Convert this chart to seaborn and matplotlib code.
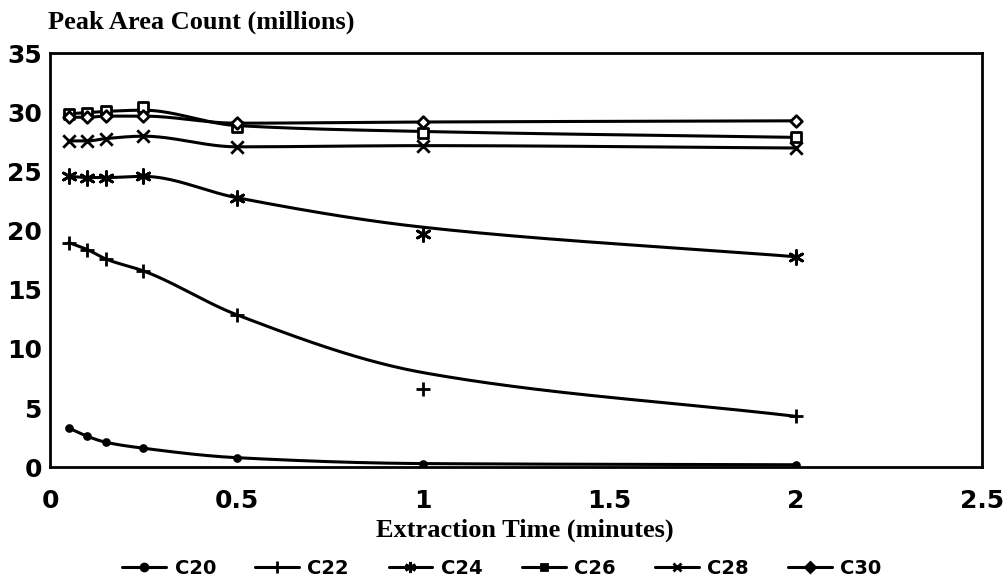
import numpy as np
import pandas as pd
import matplotlib
matplotlib.use("Agg")
import matplotlib.pyplot as plt
from matplotlib.lines import Line2D
import seaborn as sns

# ---- data ----
times = [0.05, 0.1, 0.15, 0.25, 0.5, 1.0, 2.0]
series_names = ["C20", "C22", "C24", "C26", "C28", "C30"]

c20 = [3.3, 2.6, 2.1, 1.6, 0.8, 0.3, 0.2]
c22 = [19.0, 18.4, 17.6, 16.6, 12.9, 6.6, 4.3]
c24 = [24.6, 24.5, 24.5, 24.6, 22.8, 19.7, 17.8]
c26 = [29.9, 30.0, 30.1, 30.5, 28.8, 28.3, 27.9]
c28 = [27.6, 27.6, 27.8, 28.0, 27.1, 27.2, 27.0]
c30 = [29.6, 29.6, 29.7, 29.7, 29.1, 29.2, 29.3]

# smoothed fit curve values at the same times
fit20 = [3.3, 2.6, 2.1, 1.6, 0.8, 0.3, 0.2]
fit22 = [19.0, 18.4, 17.6, 16.6, 12.9, 8.0, 4.3]
fit24 = [24.6, 24.5, 24.5, 24.6, 22.8, 20.3, 17.8]
fit26 = [29.9, 30.0, 30.1, 30.2, 28.9, 28.4, 27.9]
fit28 = [27.6, 27.6, 27.8, 28.0, 27.1, 27.2, 27.0]
fit30 = [29.6, 29.6, 29.7, 29.7, 29.1, 29.2, 29.3]

x_ticks = [0, 0.5, 1, 1.5, 2, 2.5]
x_tick_labels = ["0", "0.5", "1", "1.5", "2", "2.5"]
y_ticks = [0, 5, 10, 15, 20, 25, 30, 35]

values = [c20, c22, c24, c26, c28, c30]
fits = [fit20, fit22, fit24, fit26, fit28, fit30]


def pchip(x, y, xs):
    x = np.asarray(x, float); y = np.asarray(y, float)
    h = np.diff(x); d = np.diff(y) / h
    n = len(x); m = np.zeros(n)
    m[0] = d[0]; m[-1] = d[-1]
    for k in range(1, n - 1):
        if d[k - 1] * d[k] > 0:
            w1 = 2 * h[k] + h[k - 1]; w2 = h[k] + 2 * h[k - 1]
            m[k] = (w1 + w2) / (w1 / d[k - 1] + w2 / d[k])
        else:
            m[k] = 0.0
    out = np.empty_like(xs)
    idx = np.clip(np.searchsorted(x, xs) - 1, 0, n - 2)
    for i, (xv, k) in enumerate(zip(xs, idx)):
        t = (xv - x[k]) / h[k]
        h00 = 2 * t**3 - 3 * t**2 + 1; h10 = t**3 - 2 * t**2 + t
        h01 = -2 * t**3 + 3 * t**2; h11 = t**3 - t**2
        out[i] = h00 * y[k] + h10 * h[k] * m[k] + h01 * y[k + 1] + h11 * h[k] * m[k + 1]
    return out


pts = pd.DataFrame({
    "time": np.tile(times, len(series_names)),
    "value": np.concatenate(values),
    "series": np.repeat(series_names, len(times)),
})
xs = np.linspace(times[0], times[-1], 300)
curves = pd.DataFrame({
    "time": np.tile(xs, len(series_names)),
    "value": np.concatenate([pchip(times, f, xs) for f in fits]),
    "series": np.repeat(series_names, len(xs)),
})

sns.set_theme(style="white")
plt.rcParams["font.family"] = ["DejaVu Sans"]
plt.rcParams["text.color"] = "black"

fig = plt.figure(figsize=(10.04, 5.81), dpi=100)
ax = fig.add_axes([0.050, 0.196, 0.928, 0.712])

pal = {s: "black" for s in series_names}
sns.lineplot(data=curves, x="time", y="value", hue="series", palette=pal,
             linewidth=2.2, legend=False, ax=ax, sort=False)

markers = {"C20": "o", "C22": "+", "C24": (6, 2, 0), "C26": "s", "C28": "x", "C30": "D"}
msize = {"C20": 18, "C22": 110, "C24": 100, "C26": 55, "C28": 80, "C30": 35}
for s in series_names:
    sub = pts[pts["series"] == s]
    sns.scatterplot(data=sub, x="time", y="value", marker=markers[s],
                    s=msize[s], color="white" if s in ("C26", "C30") else "black",
                    edgecolor="black", linewidth=2, legend=False, ax=ax, zorder=5)

ax.set_xlim(0, 2.5)
ax.set_ylim(0, 35)
ax.set_xticks(x_ticks)
ax.set_xticklabels(x_tick_labels)
ax.set_yticks(y_ticks)
ax.tick_params(direction="in", length=8, width=2, colors="black", labelsize=18)
ax.tick_params(axis="x", pad=16)
ax.tick_params(axis="y", pad=6)
for lab in ax.get_xticklabels() + ax.get_yticklabels():
    lab.set_fontweight("heavy")
for sp in ax.spines.values():
    sp.set_visible(True)
    sp.set_color("black")
    sp.set_linewidth(2)
ax.set_xlabel("")
ax.set_ylabel("")

fig.text(0.048, 0.962, "Peak Area Count (millions)", family="Liberation Serif",
         fontsize=19, fontweight="bold", ha="left", va="center", color="black")
fig.text(0.523, 0.088, "Extraction Time (minutes)", family="Liberation Serif",
         fontsize=19, fontweight="bold", ha="center", va="center", color="black")

leg_msize = {"C20": 5, "C22": 8, "C24": 8, "C26": 5, "C28": 6, "C30": 5}
handles = []
for s in series_names:
    handles.append(Line2D([0], [0], color="black", lw=2.2, marker=markers[s],
                          markersize=leg_msize[s], markeredgewidth=2,
                          markerfacecolor="black", markeredgecolor="black"))
leg = fig.legend(handles, series_names, loc="center", bbox_to_anchor=(0.500, 0.022),
                 ncol=6, frameon=False, handlelength=2.25, handletextpad=0.43,
                 columnspacing=2.03, borderpad=0.1,
                 prop={"weight": "heavy", "size": 14})
for t in leg.get_texts():
    t.set_color("black")

fig.savefig("out.png", dpi=100)
